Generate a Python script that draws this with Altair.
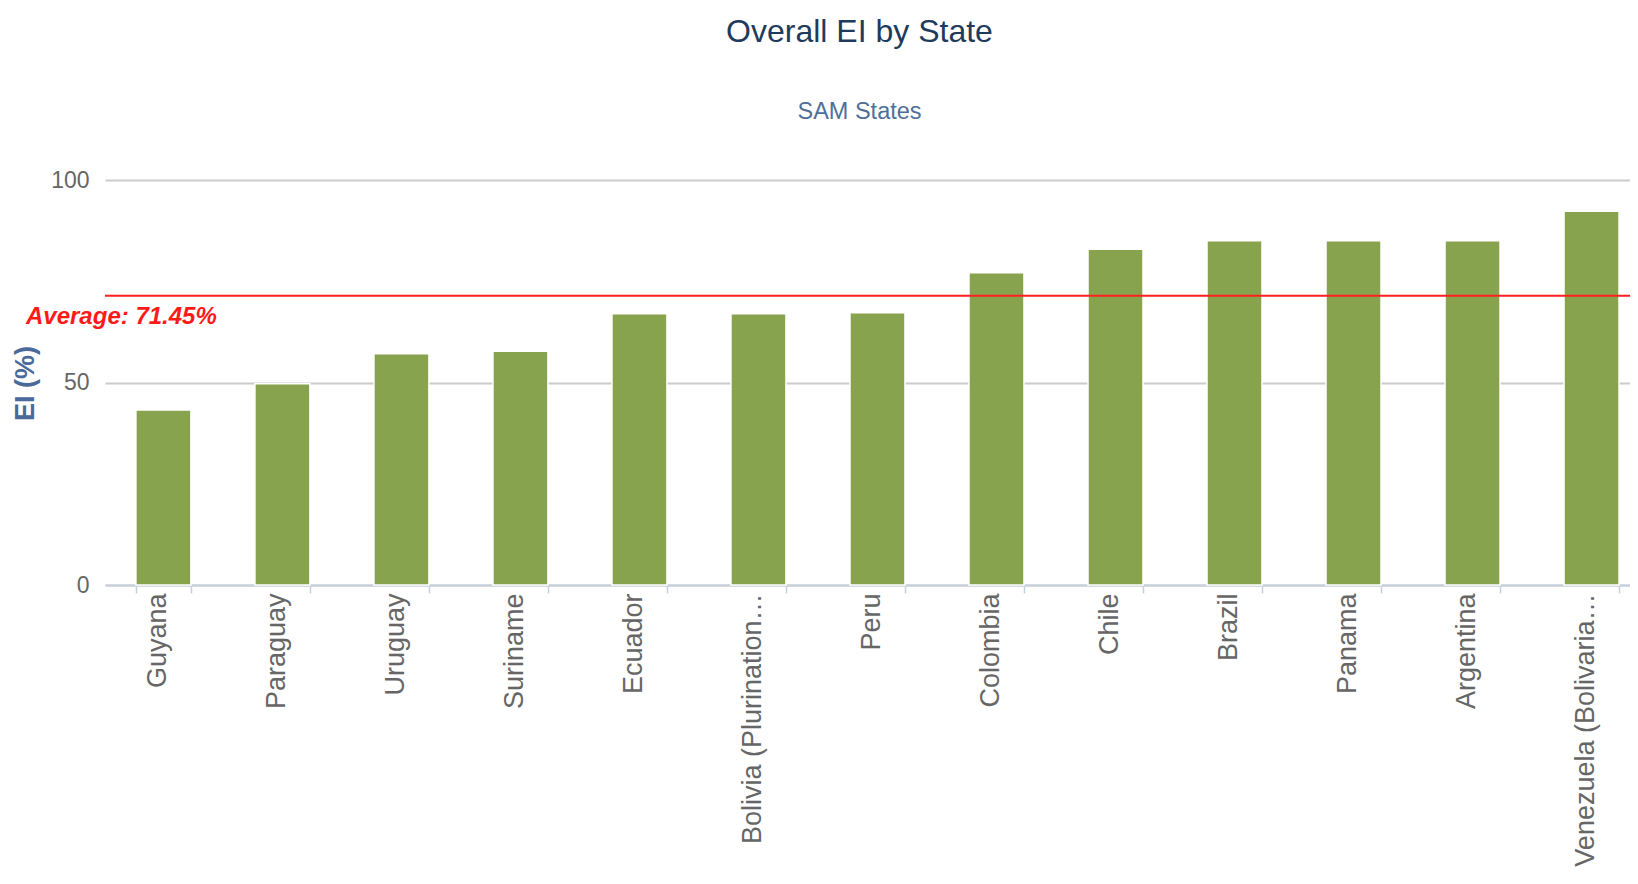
import altair as alt
import pandas as pd

states = ["Guyana", "Paraguay", "Uruguay", "Suriname", "Ecuador",
          "Bolivia (Plurination…", "Peru", "Colombia", "Chile", "Brazil",
          "Panama", "Argentina", "Venezuela (Bolivaria…"]
ei_values = [43.2, 49.7, 57.1, 57.7, 67.0, 67.0, 67.2, 77.1, 82.9, 85.0, 85.0, 85.0, 92.3]
average_value = 71.45
average_label = "Average: 71.45%"

df = pd.DataFrame({"State": states, "EI": ei_values})
avg_df = pd.DataFrame({"avg": [average_value], "label": [average_label]})

FONT = "Liberation Sans, Arial, sans-serif"

x_enc = alt.X(
    "State:N",
    sort=states,
    title=None,
    scale=alt.Scale(paddingInner=0.538, paddingOuter=0.176, align=0.738, round=False),
    axis=alt.Axis(
        labelAngle=-90,
        labelFontSize=27,
        labelColor="#666666",
        labelFont=FONT,
        labelPadding=0,
        labelOffset=-6,
        labelLimit=400,
        tickBand="extent",
        tickSize=8,
        tickColor="#c5d0de",
        tickWidth=1.5,
        domainColor="#c5d0de",
        domainWidth=2,
        grid=False,
    ),
)

y_enc = alt.Y(
    "EI:Q",
    title="EI (%)",
    scale=alt.Scale(domain=[0, 100], nice=False),
    axis=alt.Axis(
        values=[0, 50, 100],
        labelFontSize=23,
        labelColor="#666666",
        labelFont=FONT,
        labelPadding=16,
        ticks=False,
        domain=False,
        gridColor="#cccccc",
        gridWidth=2,
        titleFont=FONT,
        titleFontSize=27,
        titleFontWeight="bold",
        titleColor="#4a6a9a",
        titleX=-66,
        titleY=203,
    ),
)

bars = alt.Chart(df).mark_bar(color="#88a34e", stroke="white", strokeWidth=1.5).encode(
    x=x_enc, y=y_enc
)

avg_line = alt.Chart(avg_df).mark_rule(color="#ff1f1f", strokeWidth=2).encode(
    y=alt.Y("avg:Q")
)

avg_text = alt.Chart(avg_df).mark_text(
    align="left", baseline="middle", dy=21, fontSize=24, fontStyle="italic",
    fontWeight="bold", color="#ff1a1a", font=FONT
).encode(
    x=alt.value(-79),
    y=alt.Y("avg:Q"),
    text="label:N",
)

chart = alt.layer(bars, avg_line, avg_text).properties(
    width=1525,
    height=405,
    autosize=alt.AutoSizeParams(type="none"),
    padding={"left": 97, "top": 172, "right": 0, "bottom": 291},
    title=alt.TitleParams(
        text="Overall EI by State",
        subtitle="SAM States",
        font=FONT,
        fontSize=32,
        fontWeight="normal",
        color="#1f3b5c",
        subtitleFont=FONT,
        subtitleFontSize=23.5,
        subtitleColor="#4f6f99",
        subtitlePadding=51,
        anchor="middle",
        frame="group",
        dx=-8,
        offset=45,
    ),
).configure_view(stroke=None)

chart.save("out.html", embed_options={"renderer": "svg", "actions": False})
